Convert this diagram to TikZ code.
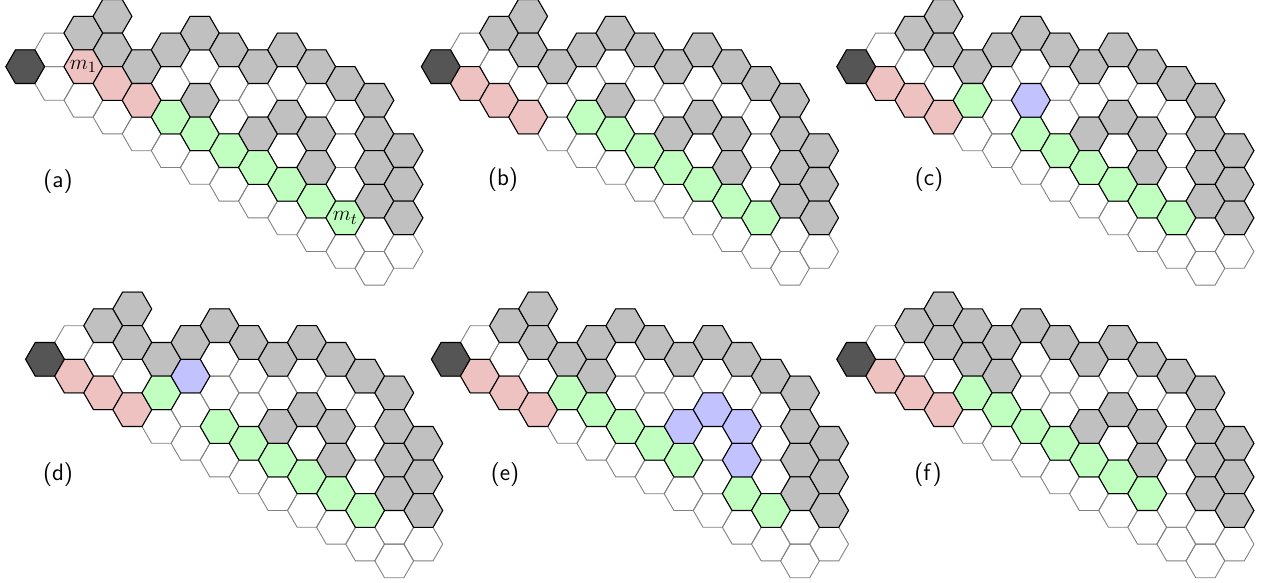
\documentclass[tikz,border=0pt]{standalone}
\usetikzlibrary{shapes.geometric}

\definecolor{hexgrey}{RGB}{192,192,192}
\definecolor{hexred}{RGB}{239,194,194}
\definecolor{hexgreen}{RGB}{192,255,192}
\definecolor{hexblue}{RGB}{194,194,255}
\definecolor{hexdark}{RGB}{85,85,85}

% cells as column/row, rows counted in half steps
\newcommand{\boardcells}{0/0,1/-1,1/1,2/-2,2/0,2/2,3/-3,3/-1,3/1,3/3,4/0,4/2,4/4,
  5/-1,5/1,5/3,5/5,6/-2,6/0,6/2,6/4,6/6,7/-1,7/1,7/3,7/5,7/7,8/0,8/2,8/4,8/6,8/8,
  9/-1,9/1,9/3,9/5,9/7,9/9,10/0,10/2,10/4,10/6,10/8,10/10,11/1,11/3,11/5,11/7,11/9,11/11,
  12/2,12/4,12/6,12/8,12/10,12/12,13/5,13/7,13/9,13/11}
\newcommand{\rimcells}{2/-2,3/-3,3/-1,4/0,5/-1,6/-2,7/-1,8/0,9/-1,10/0,11/1,
  12/2,12/4,12/6,12/8,13/5,13/7,13/9}

\newcommand{\fillcells}[3]{%
  \foreach \cx/\ky in {#3}
    \node[#2] (#1-\cx-\ky) at ({\cx*0.582},{-\ky*0.336}) {};
}
\newcommand{\drawboard}[1]{%
  \foreach \cx/\ky in \boardcells
    \node[emptycell] (#1-\cx-\ky) at ({\cx*0.582},{-\ky*0.336}) {};
  \foreach \cx/\ky in \rimcells
    \node[fullcell] (#1-\cx-\ky) at ({\cx*0.582},{-\ky*0.336}) {};
  \node[startcell] (#1-0-0) at (0,0) {};
}

\begin{document}
\begin{tikzpicture}

    \tikzstyle{hexcell} = [regular polygon,regular polygon sides=6,
        minimum size=0.776cm,inner sep=0pt,outer sep=0pt]
    \tikzstyle{emptycell} = [hexcell,draw=gray,line width=0.5pt]
    \tikzstyle{fullcell}  = [hexcell,draw,fill=hexgrey,line width=0.6pt]
    \tikzstyle{startcell} = [hexcell,draw,fill=hexdark,line width=0.6pt]
    \tikzstyle{redcell}   = [hexcell,draw,fill=hexred,line width=0.6pt]
    \tikzstyle{greencell} = [hexcell,draw,fill=hexgreen,line width=0.6pt]
    \tikzstyle{bluecell}  = [hexcell,draw,fill=hexblue,line width=0.6pt]
    \tikzstyle{celltext}  = [font=\fontsize{13}{15}\selectfont]
    \tikzstyle{panellabel} = [font=\fontsize{13.5}{16}\selectfont\sffamily]

    \useasboundingbox (0,0) rectangle (25.3,-11.66);

    % (a)
    \begin{scope}[shift={(0.504,-1.334)}]
        \drawboard{a}
        \fillcells{a}{fullcell}{6/2,8/4,9/3,10/4,10/6}
        \fillcells{a}{redcell}{2/0,3/1,4/2}
        \fillcells{a}{greencell}{5/3,6/4,7/5,8/6,9/7,10/8,11/9}
        \node[celltext] (m1) at (a-2-0) {$m_1$};
        \node[celltext] (mt) at (a-11-9) {$m_t$};
    \end{scope}

    % (b)
    \begin{scope}[shift={(8.816,-1.334)}]
        \drawboard{b}
        \fillcells{b}{fullcell}{6/2,8/4,9/3,10/4,10/6}
        \fillcells{b}{redcell}{1/1,2/2,3/3}
        \fillcells{b}{greencell}{5/3,6/4,7/5,8/6,9/7,10/8,11/9}
    \end{scope}

    % (c)
    \begin{scope}[shift={(17.124,-1.334)}]
        \drawboard{c}
        \fillcells{c}{fullcell}{8/4,9/3,10/4,10/6}
        \fillcells{c}{redcell}{1/1,2/2,3/3}
        \fillcells{c}{greencell}{4/2,6/4,7/5,8/6,9/7,10/8,11/9}
        \fillcells{c}{bluecell}{6/2}
    \end{scope}

    % (d)
    \begin{scope}[shift={(0.9,-7.186)}]
        \drawboard{d}
        \fillcells{d}{fullcell}{8/4,9/3,10/4,10/6}
        \fillcells{d}{redcell}{1/1,2/2,3/3}
        \fillcells{d}{greencell}{4/2,6/4,7/5,8/6,9/7,10/8,11/9}
        \fillcells{d}{bluecell}{5/1}
    \end{scope}

    % (e)
    \begin{scope}[shift={(9.016,-7.186)}]
        \drawboard{e}
        \fillcells{e}{fullcell}{5/1}
        \fillcells{e}{redcell}{1/1,2/2,3/3}
        \fillcells{e}{greencell}{4/2,5/3,6/4,7/5,8/6,10/8,11/9}
        \fillcells{e}{bluecell}{8/4,9/3,10/4,10/6}
    \end{scope}

    % (f)
    \begin{scope}[shift={(17.124,-7.186)}]
        \drawboard{f}
        \fillcells{f}{fullcell}{4/-2,5/1,8/4,9/3,10/4,10/6}
        \fillcells{f}{redcell}{1/1,2/2,3/3}
        \fillcells{f}{greencell}{4/2,5/3,6/4,7/5,8/6,9/7,10/8}
    \end{scope}

    \node[panellabel] (lbla) at (1.16,-3.64) {(a)};
    \node[panellabel] (lblb) at (10.06,-3.6) {(b)};
    \node[panellabel] (lblc) at (18.58,-3.6) {(c)};
    \node[panellabel] (lbld) at (1.16,-9.5) {(d)};
    \node[panellabel] (lble) at (10.1,-9.5) {(e)};
    \node[panellabel] (lblf) at (18.56,-9.5) {(f)};

\end{tikzpicture}
\end{document}
